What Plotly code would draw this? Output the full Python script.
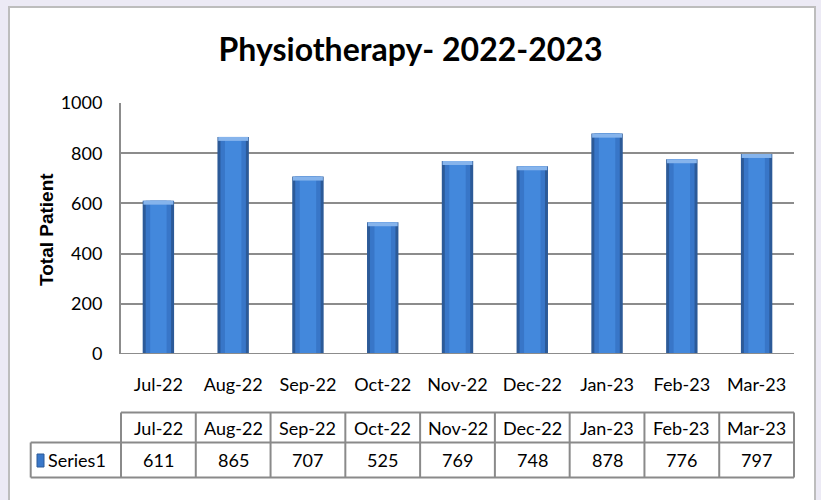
import plotly.graph_objects as go

months = ["Jul-22", "Aug-22", "Sep-22", "Oct-22", "Nov-22", "Dec-22", "Jan-23", "Feb-23", "Mar-23"]
series1 = [611, 865, 707, 525, 769, 748, 878, 776, 797]
series_name = "Series1"
title_text = "Physiotherapy- 2022-2023"
y_title = "Total Patient"
y_ticks = [0, 200, 400, 600, 800, 1000]

W, H = 821, 500
L, R, T, B = 121, 27, 103, 146
pw, ph = W - L - R, H - T - B
n = len(months)

def px_x(p):
    return (p - L) / pw

def px_y(p):
    return (H - B - p) / ph

def cat_x(i):
    # paper position of category index i (category axis maps i -> (i + 0.5) / n)
    return (i + 0.5) / n

cat_font = "Lato, 'Open Sans', sans-serif"
grid_col = "#8C8C8C"

fig = go.Figure()
cap = 16
fig.add_bar(x=months, y=series1, width=0.42, marker=dict(color="#2C5A98", line=dict(width=0)), hoverinfo="skip")
fig.add_bar(x=months, y=series1, width=0.34, marker=dict(color="#3876C8", line=dict(width=0)), hoverinfo="skip")
fig.add_bar(x=months, y=series1, width=0.22, marker=dict(color="#4388DC", line=dict(width=0)), hoverinfo="skip")
fig.add_bar(x=months, y=[cap] * n, base=[v - cap for v in series1], width=0.40,
            marker=dict(color="#86B4EC", line=dict(width=0)), hoverinfo="skip")

fig.update_layout(
    width=W, height=H, margin=dict(l=L, r=R, t=T, b=B),
    paper_bgcolor="#ECEAF5", plot_bgcolor="white",
    barmode="overlay", showlegend=False,
    title=dict(text="<b>" + title_text + "</b>", x=0.5, xanchor="center", y=1 - 50 / H, yanchor="middle",
               font=dict(family=cat_font, size=32, color="black")),
)
fig.update_xaxes(type="category", range=[-0.5, n - 0.5], showgrid=False, showline=False, zeroline=False,
                 ticks="outside", ticklen=14, tickcolor="rgba(0,0,0,0)",
                 tickfont=dict(family=cat_font, size=18, color="black"), fixedrange=True)
fig.update_yaxes(range=[0, 1000], tickvals=y_ticks, showgrid=True, gridcolor=grid_col, gridwidth=2,
                 showline=True, linecolor=grid_col, linewidth=2, zeroline=False,
                 ticks="outside", ticklen=13, tickcolor="rgba(0,0,0,0)",
                 tickfont=dict(family=cat_font, size=18, color="black"), fixedrange=True)

shapes = []
shapes.append(dict(type="rect", xref="paper", yref="paper", x0=px_x(9), x1=px_x(815), y0=px_y(520), y1=px_y(7),
                   fillcolor="white", line=dict(color="#BDBDBD", width=2), layer="below"))
shapes.append(dict(type="line", xref="paper", yref="y", x0=0, x1=1, y0=0, y1=0, line=dict(color=grid_col, width=2)))

tcol = "#8A8A8A"
y_top, y_mid, y_bot = px_y(412.5), px_y(442.5), px_y(477.5)
x_left = px_x(30.7)
for i in range(n + 1):
    xx = cat_x(i - 0.5)
    shapes.append(dict(type="line", xref="paper", yref="paper", x0=xx, x1=xx, y0=y_top, y1=y_bot,
                       line=dict(color=tcol, width=2)))
shapes.append(dict(type="line", xref="paper", yref="paper", x0=x_left, x1=x_left, y0=y_mid, y1=y_bot,
                   line=dict(color=tcol, width=2)))
shapes.append(dict(type="line", xref="paper", yref="paper", x0=cat_x(-0.5), x1=cat_x(n - 0.5), y0=y_top, y1=y_top,
                   line=dict(color=tcol, width=2)))
for yy in (y_mid, y_bot):
    shapes.append(dict(type="line", xref="paper", yref="paper", x0=x_left, x1=cat_x(n - 0.5), y0=yy, y1=yy,
                       line=dict(color=tcol, width=2)))
shapes.append(dict(type="rect", xref="paper", yref="paper", x0=px_x(37), x1=px_x(44), y0=px_y(467), y1=px_y(454),
                   fillcolor="#3A78C9", line=dict(color="#2C5A98", width=1)))

annotations = []
for i, (m, v) in enumerate(zip(months, series1)):
    annotations.append(dict(x=cat_x(i), y=px_y(427.5), xref="paper", yref="paper", text=m, showarrow=False,
                            xanchor="center", yanchor="middle",
                            font=dict(family=cat_font, size=18, color="black")))
    annotations.append(dict(x=cat_x(i), y=px_y(460), xref="paper", yref="paper", text=str(v), showarrow=False,
                            xanchor="center", yanchor="middle",
                            font=dict(family=cat_font, size=18, color="black")))
annotations.append(dict(x=px_x(46), y=px_y(460), xref="paper", yref="paper", text=series_name,
                        showarrow=False, xanchor="left", yanchor="middle",
                        font=dict(family=cat_font, size=18, color="black")))
annotations.append(dict(x=px_x(46), y=px_y(230), xref="paper", yref="paper", text="<b>" + y_title + "</b>",
                        showarrow=False, textangle=-90, xanchor="center", yanchor="middle",
                        font=dict(family="Liberation Sans, Arial, sans-serif", size=19, color="black")))

fig.update_layout(shapes=shapes, annotations=annotations)
fig.write_html("out.html", config={"displayModeBar": False},
               post_script="document.body.style.margin='0px';document.body.style.overflow='hidden';")
